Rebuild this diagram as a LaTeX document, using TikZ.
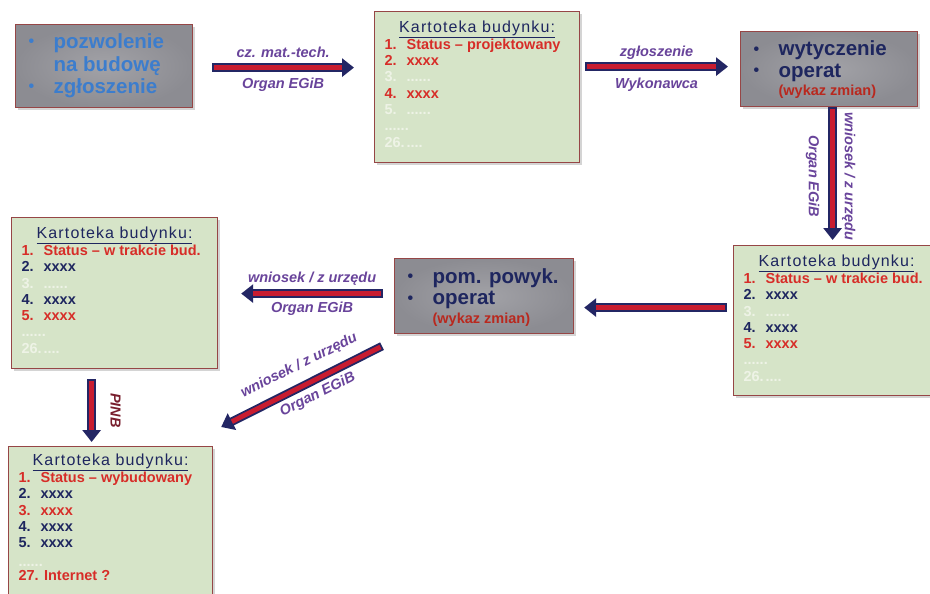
\documentclass[tikz,border=0pt]{standalone}
\usepackage{fontspec}
\setmainfont{Liberation Sans}
\usetikzlibrary{arrows.meta,shadows,calc}

\definecolor{navy}{RGB}{35,38,100}
\definecolor{arrred}{RGB}{200,28,48}
\definecolor{labpurple}{RGB}{105,68,155}
\definecolor{boxborder}{RGB}{150,70,70}
\definecolor{greenfill}{RGB}{214,228,200}
\definecolor{grayin}{RGB}{162,162,167}
\definecolor{grayout}{RGB}{140,140,146}
\definecolor{txtnavy}{RGB}{30,38,95}
\definecolor{txtred}{RGB}{215,45,40}
\definecolor{txtblue}{RGB}{60,125,205}
\definecolor{faint}{RGB}{238,243,230}
\definecolor{pinbcol}{RGB}{120,30,45}
\definecolor{zmian}{RGB}{185,40,30}

% one line of a box: baseline skip, content
\newcommand\kl[2]{\baselineskip=#1pt\relax\hbox to\hsize{#2\hfil}}
% title of a Kartoteka box
\newcommand\ktitle{\hbox to\hsize{\hfil\rule{0pt}{12pt}{\fontsize{16}{17}\selectfont\mdseries\addfontfeature{LetterSpace=7}\color{txtnavy}\underline{Kartoteka budynku:}}\hfil}}
% numbered item: skip, colour, number, text
\newcommand\ki[4]{\kl{#1}{\hspace*{10pt}\color{#2}\makebox[22pt][l]{#3}#4}}
% Kartoteka box content: top skip, height, width, lines
\newcommand\kbox[4]{\parbox[c][#2pt][t]{#3pt}{\fontsize{14.5}{16.3}\selectfont\bfseries\vskip #1pt\relax #4}}
% gray box content: top skip, height, width, lines
\newcommand\gbox[4]{\parbox[c][#2pt][t]{#3pt}{\fontsize{20.5}{21.5}\selectfont\bfseries\vskip #1pt\relax #4}}
% gray box line: skip, colour, bullet, text
\newcommand\gl[4]{\kl{#1}{\hspace*{13pt}\rule{0pt}{16pt}\color{#2}\makebox[25pt][l]{\fontsize{16}{16}\selectfont\raisebox{1.5pt}{#3}}#4}}
\newcommand\zm[1]{\kl{#1}{\hspace*{38pt}\fontsize{14.5}{16}\selectfont\color{zmian}(wykaz zmian)}}

\begin{document}
\begin{tikzpicture}[x=1pt,y=-1pt,
  shadowed/.style={drop shadow={shadow xshift=2.5pt,shadow yshift=-2.5pt,opacity=0.3,fill=black!55}},
  kbox/.style={shadowed,draw=boxborder,line width=1.2pt,fill=greenfill,inner sep=0pt,anchor=north west},
  gbox/.style={shadowed,draw=boxborder,line width=1.2pt,shade,shading=radial,inner color=grayin,outer color=grayout,inner sep=0pt,anchor=north west},
  arrout/.style={draw=navy,line width=8.5pt,-{Triangle[length=12pt,width=18pt]}},
  arrin/.style={draw=arrred,line width=4.8pt,shorten <=1.8pt,shorten >=12pt},
  lab/.style={font=\fontsize{14.5}{16}\selectfont\bfseries\itshape,text=labpurple,inner sep=1pt}]

\useasboundingbox (0,0) rectangle (930,594);
\fill[white] (0,0) rectangle (930,594);

% ---------- boxes ----------
\node[gbox] (A) at (15,24) {\gbox{7.5}{83}{177}{%
  \gl{22.5}{txtblue}{•}{pozwolenie}
  \gl{23.3}{txtblue}{}{na budowę}
  \gl{21.7}{txtblue}{•}{zgłoszenie}}};

\node[kbox] (B) at (374,11) {\kbox{9}{151}{205}{%
  \ktitle
  \ki{16.8}{txtred}{1.}{Status – projektowany}
  \ki{16.3}{txtred}{2.}{xxxx}
  \ki{16.3}{faint}{3.}{......}
  \ki{16.3}{txtred}{4.}{xxxx}
  \ki{16.3}{faint}{5.}{......}
  \ki{16.3}{faint}{......}{}
  \ki{16.3}{faint}{26.}{....}}};

\node[gbox] (C) at (740,31) {\gbox{8}{75}{177}{%
  \gl{21.5}{txtnavy}{•}{wytyczenie}
  \gl{21.7}{txtnavy}{•}{operat}
  \zm{18.3}}};

\node[kbox] (D) at (733,245) {\kbox{9}{150}{206}{%
  \ktitle
  \ki{16.8}{txtred}{1.}{Status – w trakcie bud.}
  \ki{16.3}{txtnavy}{2.}{xxxx}
  \ki{16.3}{faint}{3.}{......}
  \ki{16.3}{txtnavy}{4.}{xxxx}
  \ki{16.3}{txtred}{5.}{xxxx}
  \ki{16.3}{faint}{......}{}
  \ki{16.3}{faint}{26.}{....}}};

\node[gbox] (E) at (394,258) {\gbox{8.7}{75}{179}{%
  \gl{21.5}{txtnavy}{•}{pom. powyk.}
  \gl{21.3}{txtnavy}{•}{operat}
  \zm{18.7}}};

\node[kbox] (F) at (11,217) {\kbox{9}{151}{206}{%
  \ktitle
  \ki{16.8}{txtred}{1.}{Status – w trakcie bud.}
  \ki{16.3}{txtnavy}{2.}{xxxx}
  \ki{16.3}{faint}{3.}{......}
  \ki{16.3}{txtnavy}{4.}{xxxx}
  \ki{16.3}{txtred}{5.}{xxxx}
  \ki{16.3}{faint}{......}{}
  \ki{16.3}{faint}{26.}{....}}};

\node[kbox] (G) at (8,446) {\kbox{7}{151}{204}{%
  \ktitle
  \ki{16.8}{txtred}{1.}{Status – wybudowany}
  \ki{16.3}{txtnavy}{2.}{xxxx}
  \ki{16.3}{txtred}{3.}{xxxx}
  \ki{16.3}{txtnavy}{4.}{xxxx}
  \ki{16.3}{txtnavy}{5.}{xxxx}
  \ki{18.5}{faint}{......}{}
  \ki{14}{txtred}{27.}{\hspace*{3.5pt}Internet ?}}};

% ---------- arrows ----------
% A -> B
\draw[arrout] ($(A.east)+(19,1.5)$) --
  node[lab,yshift=15pt] (l1a) {cz. mat.-tech.}
  node[lab,yshift=-17pt] (l1b) {Organ EGiB}
  ($(A.east -| B.west)+(-20,1.5)$);
\draw[arrin] ($(A.east)+(19,1.5)$) -- ($(A.east -| B.west)+(-20,1.5)$);

% B -> C
\draw[arrout] ($(B.east |- C.west)+(5,-2.5)$) --
  node[lab,yshift=14pt] (l2a) {zgłoszenie}
  node[lab,yshift=-18pt] (l2b) {Wykonawca}
  ($(C.west)+(-12,-2.5)$);
\draw[arrin] ($(B.east |- C.west)+(5,-2.5)$) -- ($(C.west)+(-12,-2.5)$);

% C -> D
\draw[arrout] ($(C.south)+(3.5,0)$) --
  node[lab,pos=0.52,xshift=16pt,rotate=-90] (l3a) {wniosek / z urzędu}
  node[lab,pos=0.52,xshift=-20pt,rotate=-90] (l3b) {Organ EGiB}
  ($(C.south |- D.north)+(3.5,-5)$);
\draw[arrin] ($(C.south)+(3.5,0)$) -- ($(C.south |- D.north)+(3.5,-5)$);

% D -> E
\draw[arrout] ($(D.west)+(-6,-13)$) -- ($(D.west -| E.east)+(10,-13)$);
\draw[arrin] ($(D.west)+(-6,-13)$) -- ($(D.west -| E.east)+(10,-13)$);

% E -> F
\draw[arrout] ($(E.west)+(-11,-2.5)$) --
  node[lab,yshift=15pt] (l5a) {wniosek / z urzędu}
  node[lab,yshift=-15pt] (l5b) {Organ EGiB}
  ($(E.west -| F.east)+(23,-2.5)$);
\draw[arrin] ($(E.west)+(-11,-2.5)$) -- ($(E.west -| F.east)+(23,-2.5)$);

% E -> G (diagonal)
\draw[arrout] ($(E.south west)+(-12,12)$) --
  node[lab,sloped,pos=0.46,above=8pt] (l6a) {wniosek / z urzędu}
  node[lab,sloped,pos=0.44,below=2.5pt] (l6b) {Organ EGiB}
  ($(G.north east)+(8,-19)$);
\draw[arrin] ($(E.south west)+(-12,12)$) -- ($(G.north east)+(8,-19)$);

% F -> G
\draw[arrout] ($(F.south)+(-23,10)$) --
  node[lab,text=pinbcol,pos=0.5,xshift=24pt,rotate=-90] (l7) {PINB}
  ($(F.south |- G.north)+(-23,-4)$);
\draw[arrin] ($(F.south)+(-23,10)$) -- ($(F.south |- G.north)+(-23,-4)$);

\end{tikzpicture}
\end{document}
